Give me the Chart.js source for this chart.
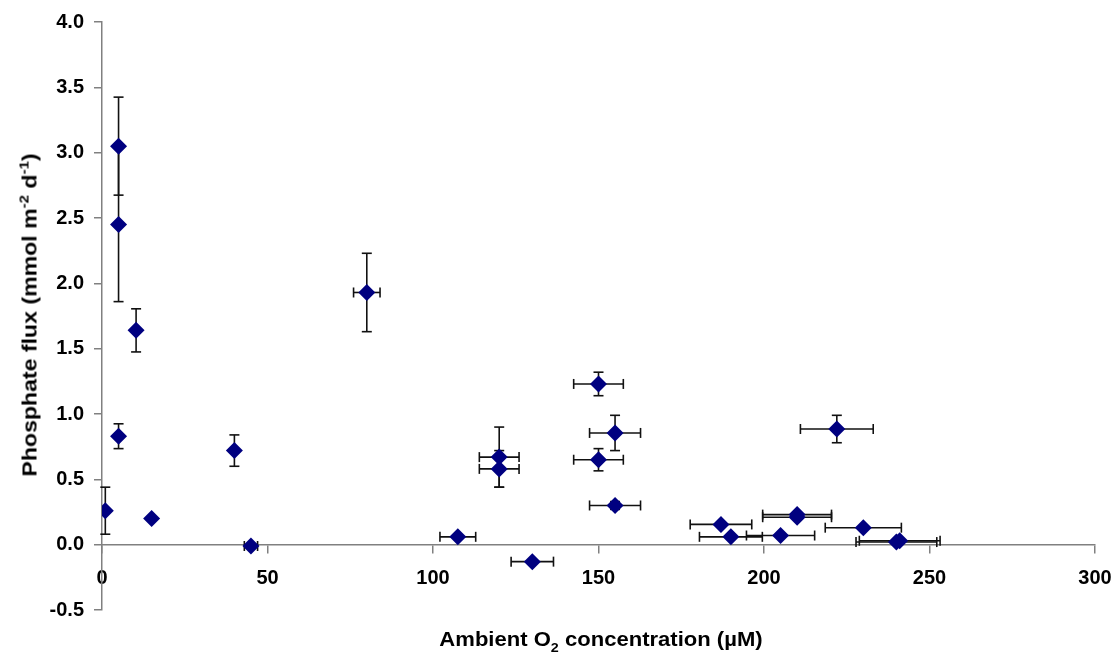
<!DOCTYPE html>
<html>
<head>
<meta charset="utf-8">
<script src="https://cdn.jsdelivr.net/npm/chart.js@4.4.1/dist/chart.umd.min.js"></script>
<style>
  html, body { margin: 0; padding: 0; background: #fff; }
  .wrap { position: relative; width: 1115px; height: 664px; }
  #chart { position: absolute; left: 0; top: 0; }
  .axis-title {
    position: absolute;
    font-family: 'Liberation Sans', Arial, sans-serif;
    font-weight: bold;
    color: #000;
    white-space: nowrap;
    font-size: 21px;
  }
  .axis-title sub, .axis-title sup { font-size: 0.65em; }
  .x-title { left: 601px; top: 641px; transform: translate(-50%, -50%) scaleX(1.05); }
  .y-title { left: 29px; top: 315px; transform: translate(-50%, -50%) rotate(-90deg) scaleX(1.1); }
</style>
</head>
<body>
<div class="wrap">
  <canvas id="chart" width="1115" height="664"></canvas>
  <div class="axis-title x-title">Ambient O<sub>2</sub> concentration (&micro;M)</div>
  <div class="axis-title y-title">Phosphate flux (mmol m<sup>-2</sup> d<sup>-1</sup>)</div>
</div>
<script>
// ambient O2 (µM) and phosphate flux (mmol m-2 d-1), with error bar half-widths
const o2      = [1, 5, 5, 10.3, 5, 15, 40, 45, 80, 107.5, 130, 120, 120, 150, 155, 150, 155, 187, 190, 205, 210, 210, 230, 222, 240, 241]
const flux    = [0.26, 3.05, 2.45, 1.64, 0.83, 0.20, 0.72, -0.01, 1.93, 0.06, -0.13, 0.67, 0.58, 1.23, 0.855, 0.65, 0.30, 0.155, 0.06, 0.07, 0.23, 0.21, 0.13, 0.885, 0.02, 0.03]
const o2Err   = [0, 0, 0, 0, 0, 0, 0, 2, 4, 5.4, 6.4, 6, 6, 7.5, 7.7, 7.5, 7.7, 9.3, 9.5, 10.3, 10.4, 10.4, 11.5, 11, 12.2, 12.2]
const fluxErr = [0.18, 0.375, 0.59, 0.165, 0.095, 0, 0.12, 0, 0.30, 0, 0, 0.23, 0.14, 0.09, 0.135, 0.085, 0.03, 0, 0, 0, 0, 0, 0, 0.105, 0, 0]

const xTicks = [0, 50, 100, 150, 200, 250, 300]
const yTicks = [-0.5, 0, 0.5, 1, 1.5, 2, 2.5, 3, 3.5, 4]

const tickFont = { family: "'Liberation Sans', Arial, sans-serif", size: 20, weight: 'bold' }
const axisGrey = '#808080'

const errorBars = {
  id: 'errorBars',
  beforeDatasetsDraw(chart) {
    const { ctx, scales: { x, y } } = chart
    const seg = (x1, y1, x2, y2) => {
      ctx.beginPath()
      ctx.moveTo(x1, y1)
      ctx.lineTo(x2, y2)
      ctx.stroke()
    }
    const cap = 5
    ctx.save()
    ctx.strokeStyle = '#111'
    ctx.lineWidth = 1.6
    o2.forEach((v, i) => {
      const px = x.getPixelForValue(v)
      const py = y.getPixelForValue(flux[i])
      if (fluxErr[i]) {
        const top = y.getPixelForValue(flux[i] + fluxErr[i])
        const bot = y.getPixelForValue(flux[i] - fluxErr[i])
        seg(px, top, px, bot)
        seg(px - cap, top, px + cap, top)
        seg(px - cap, bot, px + cap, bot)
      }
      if (o2Err[i]) {
        const lo = x.getPixelForValue(v - o2Err[i])
        const hi = x.getPixelForValue(v + o2Err[i])
        seg(lo, py, hi, py)
        seg(lo, py - cap, lo, py + cap)
        seg(hi, py - cap, hi, py + cap)
      }
    })
    ctx.restore()
  },
}

new Chart(document.getElementById('chart'), {
  type: 'scatter',
  data: {
    datasets: [{
      data: o2.map((v, i) => ({ x: v, y: flux[i] })),
      pointStyle: 'rectRot',
      pointRadius: 8.5,
      backgroundColor: '#000080',
      borderColor: '#000080',
      borderWidth: 0,
    }],
  },
  options: {
    responsive: false,
    animation: false,
    layout: { padding: { top: 22, right: 20, bottom: 54, left: 0 } },
    plugins: { legend: { display: false }, tooltip: { enabled: false } },
    scales: {
      x: {
        type: 'linear',
        position: { y: 0 },
        min: 0,
        max: 300,
        afterBuildTicks: (s) => { s.ticks = xTicks.map((v) => ({ value: v })) },
        afterFit: (s) => { s.paddingRight = 0; s.paddingLeft = 0 },
        grid: { drawOnChartArea: false, drawTicks: true, tickLength: 8, color: axisGrey, lineWidth: 1.5 },
        border: { color: axisGrey, width: 1.5 },
        ticks: { font: tickFont, color: '#000', padding: 14, maxRotation: 0 },
      },
      y: {
        type: 'linear',
        min: -0.5,
        max: 4,
        afterBuildTicks: (s) => { s.ticks = yTicks.map((v) => ({ value: v })) },
        afterFit: (s) => { s.width = 102 },
        grid: { drawOnChartArea: false, drawTicks: true, tickLength: 8, color: axisGrey, lineWidth: 1.5 },
        border: { color: axisGrey, width: 1.5 },
        ticks: { font: tickFont, color: '#000', padding: 10, callback: (v) => v.toFixed(1) },
      },
    },
  },
  plugins: [errorBars],
})
</script>
</body>
</html>
